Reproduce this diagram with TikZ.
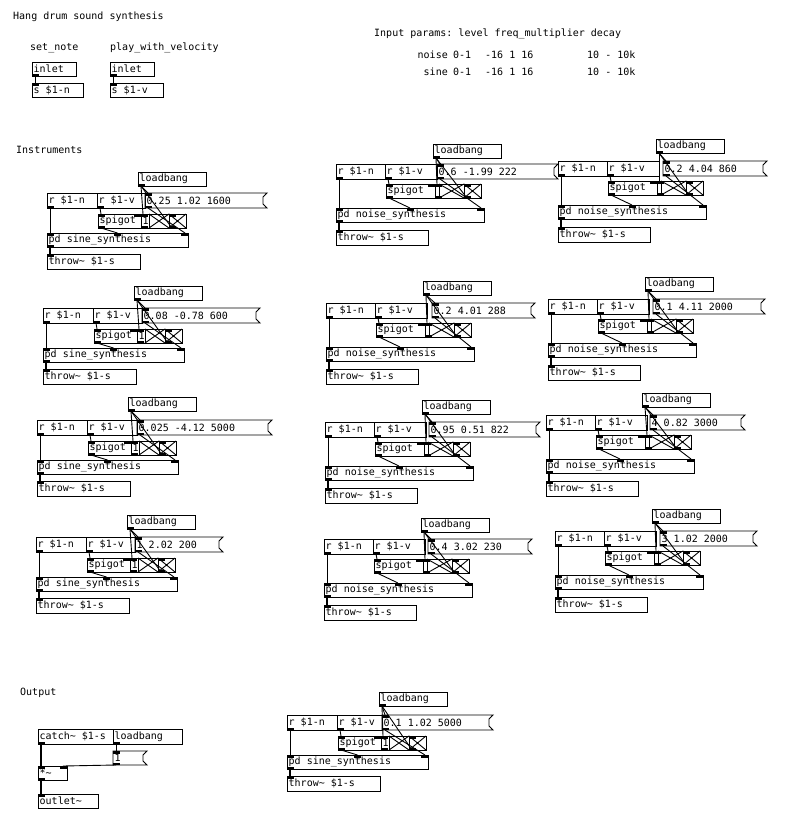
\documentclass[tikz,border=0pt]{standalone}
\usepackage{fontspec}
\newfontfamily\pdfnt{DejaVu Sans Mono}
\usetikzlibrary{calc}
\frenchspacing
\tikzset{
  pdbox/.style={draw, line width=0.9pt, anchor=north west, inner sep=0pt, outer sep=0pt},
  pdlabel/.style={anchor=west, inner sep=0pt, xshift=1.5pt, font=\pdfnt\fontsize{10}{12}\selectfont},
  cmt/.style={anchor=west, inner sep=0pt, font=\pdfnt\fontsize{10}{12}\selectfont},
  conn/.style={line width=0.9pt},
  sig/.style={line width=2pt},
}
\newcommand\pdobj[6]{\node[pdbox, minimum width={(#4)-(#2)}, minimum height={(#5)-(#3)}, label={[pdlabel]west:{#6}}] (#1) at (#2,#3) {};}
\newcommand\pdmsg[6]{\node[pdbox, draw=none, minimum width={(#4)-(#2)}, minimum height={(#5)-(#3)}, label={[pdlabel]west:{#6}}] (#1) at (#2,#3) {};
  \draw[conn] (#1.north west) -- (#1.north east) -- ($(#1.north east)+(-4,4)$) -- ($(#1.south east)+(-4,-4)$) -- (#1.south east) -- (#1.south west) -- cycle;}
\newcommand\pdtgl[5]{\node[pdbox, minimum width={(#4)-(#2)}, minimum height={(#5)-(#3)}] (#1) at (#2,#3) {};
  \draw[conn] (#1.north west) -- (#1.south east) (#1.south west) -- (#1.north east);}
\newcommand\nubin[2]{\fill ($(#1)+(#2,0)$) rectangle ++(7,2.5);}
\newcommand\nubout[2]{\fill ($(#1)+(#2,0)$) rectangle ++(7,-2.5);}
\newcommand\instconn[1]{%
  \draw[conn] ($(#1lb.south west)+(3,0)$) -- ($(#1msg.north west)+(3,0)$);
  \draw[conn] ($(#1lb.south west)+(3,0)$) -- ($(#1one.north west)+(2,0)$);
  \draw[conn] ($(#1lb.south west)+(3,0)$) -- ($(#1tb.south west)+(3,0)$);
  \draw[conn] ($(#1msg.south west)+(3,0)$) -- ($(#1pd.north east)+(-3,0)$);
  \draw[conn] ($(#1rv.south west)+(3,0)$) -- ($(#1sp.north west)+(3,0)$);
  \draw[conn] ($(#1sp.south west)+(3,0)$) -- (#1pd.north);
  \draw[conn] ($(#1rn.south west)+(3,0)$) -- ($(#1pd.north west)+(3,0)$);
  \draw[sig] ($(#1pd.south west)+(3,0)$) -- ($(#1th.north west)+(3,0)$);
  \nubout{#1rn.south west}{0}\nubout{#1rv.south west}{0}\nubout{#1lb.south west}{0}
  \nubin{#1msg.north west}{0}\nubout{#1msg.south west}{0}
  \nubin{#1sp.north west}{0}\nubin{#1sp.north east}{-7}\nubout{#1sp.south west}{0}
  \nubin{#1one.north west}{0}\nubout{#1one.south west}{0}
  \nubin{#1tb.north west}{0}\nubout{#1tb.south west}{0}
  \nubin{#1pd.north west}{0}\nubin{#1pd.north}{-3.5}\nubin{#1pd.north east}{-7}\nubout{#1pd.south west}{0}
  \nubin{#1th.north west}{0}}
% #1 prefix, #2 x0, #3 y0, #4 lbx, #5 lby, #6 msgx1, #7 msgx2, #8 text
\newcommand\sineinst[8]{%
  \pdobj{#1rn}{#2}{#3}{#2+50}{#3+15}{r \$1-n}
  \pdobj{#1rv}{#2+50}{#3}{#6}{#3+15}{r \$1-v}
  \pdmsg{#1msg}{#6}{#3}{#7}{#3+15}{#8}
  \pdobj{#1lb}{#4}{#5}{#4+68}{#5+14}{loadbang}
  \pdobj{#1sp}{#2+51}{#3+21}{#2+94}{#3+35}{spigot}
  \pdobj{#1one}{#2+94}{#3+21}{#2+102}{#3+35}{1}
  \pdtgl{#1ta}{#2+102}{#3+21}{#2+122}{#3+35}
  \pdtgl{#1tb}{#2+122}{#3+21}{#2+139}{#3+35}
  \pdobj{#1pd}{#2}{#3+40}{#2+141}{#3+54}{pd sine\_synthesis}
  \pdobj{#1th}{#2}{#3+61}{#2+93}{#3+76}{throw\textasciitilde{} \$1-s}
  \instconn{#1}}
\newcommand\noiseinst[8]{%
  \pdobj{#1rn}{#2}{#3}{#2+49}{#3+15}{r \$1-n}
  \pdobj{#1rv}{#2+49}{#3}{#2+101}{#3+15}{r \$1-v}
  \pdmsg{#1msg}{#6}{#3}{#7}{#3+15}{#8}
  \pdobj{#1lb}{#4}{#5}{#4+68}{#5+14}{loadbang}
  \pdobj{#1sp}{#2+50}{#3+20}{#2+99}{#3+34}{spigot}
  \pdobj{#1one}{#2+99}{#3+20}{#2+103}{#3+34}{}
  \pdtgl{#1ta}{#2+103}{#3+20}{#2+128}{#3+34}
  \pdtgl{#1tb}{#2+128}{#3+20}{#2+145}{#3+34}
  \pdobj{#1pd}{#2}{#3+44}{#2+148}{#3+58}{pd noise\_synthesis}
  \pdobj{#1th}{#2}{#3+66}{#2+92}{#3+81}{throw\textasciitilde{} \$1-s}
  \instconn{#1}}
\begin{document}
\begin{tikzpicture}[x=1pt,y=-1pt]
\fill[white] (0,0) rectangle (791,823);
\useasboundingbox (0,0) rectangle (791,823);
% comments
\node[cmt] (title) at (13,17) {Hang drum sound synthesis};
\node[cmt] (c1) at (30,48) {set\_note};
\node[cmt] (c2) at (110,48) {play\_with\_velocity};
\node[cmt] (c3) at (374,34) {Input params: level freq\_multiplier decay};
\node[cmt, anchor=east] (c4) at (448,55) {noise};
\node[cmt] (c5) at (453,55) {0-1};
\node[cmt] (c6) at (485,55) {-16 1 16};
\node[cmt] (c7) at (587,55) {10 - 10k};
\node[cmt, anchor=east] (c8) at (448,72) {sine};
\node[cmt] (c9) at (453,72) {0-1};
\node[cmt] (c10) at (485,72) {-16 1 16};
\node[cmt] (c11) at (587,72) {10 - 10k};
\node[cmt] (c12) at (16,150) {Instruments};
\node[cmt] (c13) at (20,693) {Output};
% inlets
\pdobj{inA}{32}{62}{76}{76}{inlet}
\pdobj{sA}{32}{83}{83}{97}{s \$1-n}
\pdobj{inB}{110}{62}{154}{76}{inlet}
\pdobj{sB}{110}{83}{163}{97}{s \$1-v}
\draw[conn] ($(inA.south west)+(3,0)$) -- ($(sA.north west)+(3,0)$);
\draw[conn] ($(inB.south west)+(3,0)$) -- ($(sB.north west)+(3,0)$);
\nubout{inA.south west}{0}\nubin{sA.north west}{0}
\nubout{inB.south west}{0}\nubin{sB.north west}{0}
% instruments
\sineinst{a}{47}{193}{138}{172}{145}{267}{0.25 1.02 1600}
\sineinst{b}{43}{308}{134}{286}{142}{260}{0.08 -0.78 600}
\sineinst{c}{37}{420}{128}{397}{137}{272}{0.025 -4.12 5000}
\sineinst{d}{36}{537}{127}{515}{135}{223}{1 2.02 200}
\sineinst{m}{287}{715}{379}{692}{382}{493}{0.1 1.02 5000}
\noiseinst{e}{336}{164}{433}{144}{437}{558}{0.6 -1.99 222}
\noiseinst{f}{326}{303}{423}{281}{432}{535}{0.2 4.01 288}
\noiseinst{g}{325}{422}{422}{400}{429}{540}{0.95 0.51 822}
\noiseinst{h}{324}{539}{421}{518}{428}{532}{0.4 3.02 230}
\noiseinst{i}{558}{161}{656}{139}{663}{767}{0.2 4.04 860}
\noiseinst{j}{548}{299}{645}{277}{653}{765}{0.1 4.11 2000}
\noiseinst{k}{546}{415}{642}{393}{650}{745}{4 0.82 3000}
\noiseinst{l}{555}{531}{652}{509}{660}{757}{3 1.02 2000}
% output
\pdobj{catch}{38}{729}{113}{744}{catch\textasciitilde{} \$1-s}
\pdobj{olb}{113}{729}{182}{744}{loadbang}
\pdmsg{oone}{113}{751}{147}{765}{1}
\pdobj{mul}{38}{766}{67}{780}{*\textasciitilde}
\pdobj{outl}{38}{794}{98}{808}{outlet\textasciitilde}
\draw[sig] ($(catch.south west)+(3,0)$) -- ($(mul.north west)+(3,0)$);
\draw[conn] ($(olb.south west)+(3,0)$) -- ($(oone.north west)+(3,0)$);
\draw[conn] ($(oone.south west)+(3,0)$) -- ($(mul.north east)+(-4,0)$);
\draw[sig] ($(mul.south west)+(3,0)$) -- ($(outl.north west)+(3,0)$);
\nubout{catch.south west}{0}\nubout{olb.south west}{0}
\nubin{oone.north west}{0}\nubout{oone.south west}{0}
\nubin{mul.north west}{0}\nubin{mul.north east}{-7}\nubout{mul.south west}{0}
\nubin{outl.north west}{0}
\end{tikzpicture}
\end{document}
